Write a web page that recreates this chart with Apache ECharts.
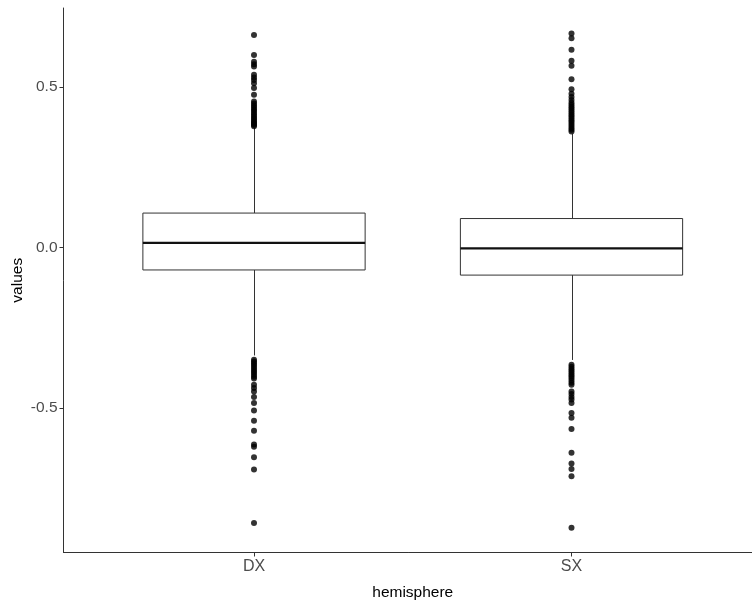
<!DOCTYPE html>
<html>
<head>
<meta charset="utf-8">
<script src="https://cdn.jsdelivr.net/npm/echarts@6/dist/echarts.min.js"></script>
<style>html,body{margin:0;padding:0;background:#fff}#c{width:752px;height:603px}</style>
</head>
<body>
<div id="c"></div>
<script>
const categories = ['DX', 'SX'];
// [lowerWhisker, Q1, median, Q3, upperWhisker]
const boxDX = [-0.336, -0.070, 0.014, 0.107, 0.372];
const boxSX = [-0.350, -0.086, -0.003, 0.090, 0.354];
const outliersDX = [0.661, 0.599, 0.578, 0.570, 0.563, 0.537, 0.529, 0.521, 0.511, 0.496, 0.475, 0.454, 0.448, 0.442, 0.436, 0.430, 0.425, 0.419, 0.414, 0.408, 0.403, 0.398, 0.393, 0.389, 0.385, 0.381, 0.377,
  -0.349, -0.355, -0.360, -0.366, -0.372, -0.378, -0.384, -0.390, -0.396, -0.402, -0.408, -0.427, -0.437, -0.448, -0.465, -0.484, -0.507, -0.539, -0.570, -0.613, -0.620, -0.653, -0.691, -0.857];
const outliersSX = [0.666, 0.651, 0.615, 0.581, 0.565, 0.523, 0.492, 0.478, 0.468, 0.459, 0.450, 0.444, 0.438, 0.432, 0.426, 0.420, 0.414, 0.408, 0.402, 0.396, 0.390, 0.384, 0.378, 0.372, 0.366, 0.361,
  -0.365, -0.371, -0.377, -0.383, -0.389, -0.395, -0.401, -0.407, -0.414, -0.421, -0.427, -0.448, -0.456, -0.465, -0.473, -0.484, -0.515, -0.530, -0.565, -0.639, -0.672, -0.689, -0.712, -0.872];
const yTicks = [-0.5, 0, 0.5];

const boxes = [boxDX, boxSX];
const boxData = boxes.map((b, i) => [i + 1].concat(b));
const outlierData = [];
outliersDX.forEach(v => outlierData.push([1, v]));
outliersSX.forEach(v => outlierData.push([2, v]));

const font = 'Liberation Sans, Arial, sans-serif';
const chart = echarts.init(document.getElementById('c'));
chart.setOption({
  animation: false,
  backgroundColor: '#fff',
  grid: { left: 63.5, top: 8, right: -10, bottom: 50.5, containLabel: false, outerBoundsMode: 'none' },
  xAxis: {
    type: 'value', min: 0.4, max: 2.6,
    name: 'hemisphere', nameLocation: 'middle', nameGap: 32, nameMoveOverlap: false,
    nameTextStyle: { fontFamily: font, fontSize: 15.5, color: '#000' },
    axisLine: { onZero: false, lineStyle: { color: '#333', width: 1 } },
    axisTick: { show: true, length: 4, customValues: [1, 2], lineStyle: { color: '#333' } },
    axisLabel: { customValues: [1, 2], formatter: v => categories[Math.round(v) - 1] || '', fontFamily: font, fontSize: 16, color: '#4d4d4d', margin: 6 },
    splitLine: { show: false }
  },
  yAxis: {
    type: 'value', min: -0.949, max: 0.745,
    name: 'values', nameLocation: 'middle', nameGap: 38, nameRotate: 90, nameMoveOverlap: false,
    nameTextStyle: { fontFamily: font, fontSize: 15.5, color: '#000' },
    axisLine: { show: true, onZero: false, lineStyle: { color: '#333', width: 1 } },
    axisTick: { show: true, length: 4, customValues: yTicks, lineStyle: { color: '#333' } },
    axisLabel: { customValues: yTicks, formatter: v => v.toFixed(1), fontFamily: font, fontSize: 15.5, color: '#4d4d4d', margin: 6 },
    splitLine: { show: false }
  },
  series: [
    {
      type: 'custom',
      data: boxData,
      renderItem: function (params, api) {
        const x = api.value(0);
        const lo = api.coord([x, api.value(1)]);
        const q1 = api.coord([x, api.value(2)]);
        const med = api.coord([x, api.value(3)]);
        const q3 = api.coord([x, api.value(4)]);
        const hi = api.coord([x, api.value(5)]);
        const half = api.size([0.35, 0])[0];
        const cx = Math.round(lo[0]) + 0.5;
        const st = { stroke: '#333', lineWidth: 1, fill: null };
        return {
          type: 'group',
          children: [
            { type: 'line', shape: { x1: cx, y1: hi[1], x2: cx, y2: q3[1] }, style: st },
            { type: 'line', shape: { x1: cx, y1: q1[1], x2: cx, y2: lo[1] }, style: st },
            { type: 'rect', shape: { x: lo[0] - half, y: q3[1], width: half * 2, height: q1[1] - q3[1] }, style: { stroke: '#333', lineWidth: 1, fill: '#fff' } },
            { type: 'line', shape: { x1: lo[0] - half, y1: med[1], x2: lo[0] + half, y2: med[1] }, style: { stroke: '#111', lineWidth: 2.2 } }
          ]
        };
      },
      z: 2
    },
    {
      type: 'scatter',
      data: outlierData,
      symbol: 'circle',
      symbolSize: 6,
      itemStyle: { color: '#000' },
      z: 3
    }
  ]
});
</script>
</body>
</html>
